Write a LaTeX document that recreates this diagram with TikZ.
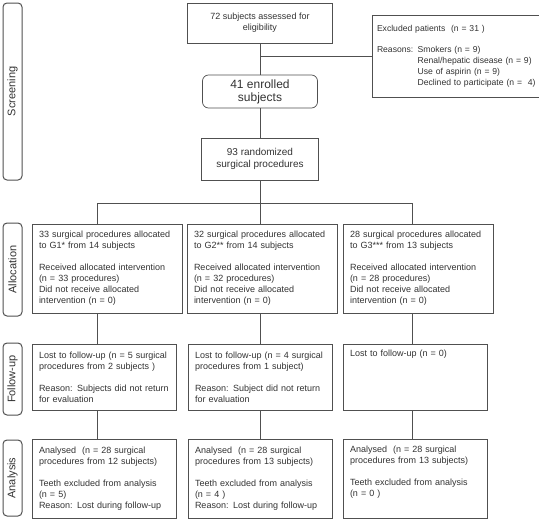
\documentclass[tikz,border=0pt]{standalone}
\usepackage{fontspec}
\setmainfont{Liberation Sans}
\usetikzlibrary{positioning}
\definecolor{fgline}{RGB}{80,80,80}
\definecolor{fgtext}{RGB}{50,50,50}
\tikzset{
  stagebox/.style={draw=fgline,line width=1pt,rounded corners=4pt,rotate=90,
    minimum height=19pt,inner sep=0pt,text=fgtext,font=\fontsize{11}{13}\selectfont},
  flowbox/.style={draw=fgline,line width=0.7pt,inner xsep=7pt,inner ysep=0pt,
    align=left,text=fgtext,font=\fontsize{9}{11}\selectfont},
  midbox/.style={draw=fgline,line width=0.7pt,inner sep=0pt,align=center,text=fgtext},
  link/.style={draw=fgline,line width=0.7pt},
}
\newcommand{\stagelabel}[4]{%
  \node[stagebox,minimum width=#3pt] (#1) at (12.5,#2) {#4};}
\newcommand{\blankline}{\\[11pt]}

\begin{document}
\begin{tikzpicture}[x=1pt,y=-1pt]
        \useasboundingbox (0,0) rectangle (539,525);
        % stage labels
        \stagelabel{screen}{91.5}{177}{Screening}
        \stagelabel{alloc}{269.5}{93}{Allocation}
        \stagelabel{follow}{379}{72}{Follow-up}
        \stagelabel{anal}{478}{76}{Analysis}
        % screening
        \node[midbox,minimum width=145pt,minimum height=40pt,
          font=\fontsize{9}{11}\selectfont] (assess) at (260,23)
          {72 subjects assessed for\\eligibility};
        \node[flowbox,inner xsep=5pt,text width=166pt,minimum height=82pt,
          font=\fontsize{8.6}{10.8}\selectfont] (excl) at (460,56)
          {Excluded patients\ \ (n = 31 )\\[10.8pt]
           Reasons: Smokers (n = 9)\\
           \hphantom{Reasons: }Renal/hepatic disease (n = 9)\\
           \hphantom{Reasons: }Use of aspirin (n = 9)\\
           \hphantom{Reasons: }Declined to participate (n =\ \ 4)};
        \node[midbox,rounded corners=6pt,minimum width=115pt,minimum height=33pt,
          font=\fontsize{12}{13}\selectfont] (enrol) at (260,91.5)
          {41 enrolled\\subjects};
        \node[midbox,minimum width=117pt,minimum height=42pt,
          font=\fontsize{10}{12}\selectfont] (rand) at (260,159)
          {93 randomized\\surgical procedures};
        % allocation
        \node[flowbox,text width=136pt,minimum height=89pt] (alloc1) at (107,268.5)
          {33 surgical procedures allocated\\to G1* from 14 subjects\blankline
           Received allocated intervention\\(n = 33 procedures)\\
           Did not receive allocated\\intervention (n = 0)};
        \node[flowbox,text width=136pt,minimum height=89pt] (alloc2) at (262,268.5)
          {32 surgical procedures allocated\\to G2** from 14 subjects\blankline
           Received allocated intervention\\(n = 32 procedures)\\
           Did not receive allocated\\intervention (n = 0)};
        \node[flowbox,text width=136pt,minimum height=89pt] (alloc3) at (418,268.5)
          {28 surgical procedures allocated\\to G3*** from 13 subjects\blankline
           Received allocated intervention\\(n = 28 procedures)\\
           Did not receive allocated\\intervention (n = 0)};
        % follow-up
        \node[flowbox,text width=130pt,minimum height=66pt] (fu1) at (104,377)
          {Lost to follow-up (n = 5 surgical\\procedures from 2 subjects )\blankline
           Reason: Subjects did not return\\for evaluation};
        \node[flowbox,text width=130pt,minimum height=66pt] (fu2) at (260,377)
          {Lost to follow-up (n = 4 surgical\\procedures from 1 subject)\blankline
           Reason: Subject did not return\\for evaluation};
        \node[flowbox,text width=130pt,minimum height=66pt] (fu3) at (415,377)
          {Lost to follow-up (n = 0)\\\strut\blankline\strut\\\strut};
        % analysis
        \node[flowbox,text width=130pt,minimum height=79pt] (an1) at (104,478.5)
          {Analysed\ \ (n = 28 surgical\\procedures from 12 subjects)\blankline
           Teeth excluded from analysis\\(n = 5)\\Reason: Lost during follow-up};
        \node[flowbox,text width=130pt,minimum height=79pt] (an2) at (260,478.5)
          {Analysed\ \ (n = 28 surgical\\procedures from 13 subjects)\blankline
           Teeth excluded from analysis\\(n = 4 )\\Reason: Lost during follow-up};
        \node[flowbox,text width=130pt,minimum height=79pt] (an3) at (415,478.5)
          {Analysed\ \ (n = 28 surgical\\procedures from 13 subjects)\blankline
           Teeth excluded from analysis\\(n = 0 )\\\strut};
        % connectors
        \coordinate (exj) at (260,56);
        \coordinate (split) at (260,203);
        \coordinate (col1) at (97,203);
        \coordinate (col3) at (412,203);
        \draw[link] (assess) -- (enrol);
        \draw[link] (exj) -- (excl.west);
        \draw[link] (enrol) -- (rand);
        \draw[link] (rand) -- (split);
        \draw[link] (col1 |- alloc1.north) -- (col1) -- (col3) -- (col3 |- alloc3.north);
        \draw[link] (split) -- (split |- alloc2.north);
        \foreach \i/\c in {1/col1,2/split,3/col3}{
          \draw[link] (\c |- alloc\i.south) -- (\c |- fu\i.north);
          \draw[link] (\c |- fu\i.south) -- (\c |- an\i.north);}
      \end{tikzpicture}
\end{document}
